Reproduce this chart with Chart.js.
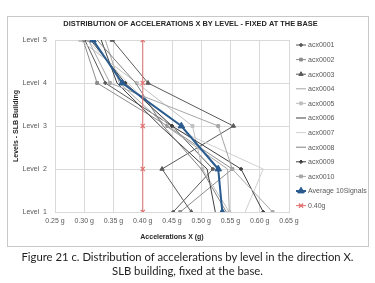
<!DOCTYPE html>
<html>
<head>
<meta charset="utf-8">
<script src="https://cdn.jsdelivr.net/npm/chart.js@4.4.0/dist/chart.umd.min.js"></script>
<style>
  html, body { margin: 0; padding: 0; background: #ffffff; }
  body { width: 375px; height: 283px; position: relative; overflow: hidden; }
  #frame { position: absolute; left: 7px; top: 16px; width: 360px; height: 229px; border: 1px solid #c8c8c8; box-sizing: content-box; }
  #wrap { position: absolute; left: 0; top: 0; width: 375px; height: 283px; }
  #cap { position: absolute; left: 0; top: 250px; width: 375px; text-align: center; font-family: Lato, "Open Sans", sans-serif; font-size: 11.3px; line-height: 13.5px; color: #1e1e1e; }
</style>
</head>
<body>
<div id="frame"></div>
<div id="wrap"><canvas id="c" width="375" height="283"></canvas></div>
<div id="cap">Figure 21 c. Distribution of accelerations by level in the direction X.<br>SLB building, fixed at the base.</div>
<script>
// ---- data (x = acceleration in g, for Level 1..5) ----
const levels = [1, 2, 3, 4, 5];
const levelLabels = ['Level  1', 'Level  2', 'Level  3', 'Level  4', 'Level  5'];
const xTicks = [0.25, 0.30, 0.35, 0.40, 0.45, 0.50, 0.55, 0.60, 0.65];
const seriesNames = ['acx0001','acx0002','acx0003','acx0004','acx0005','acx0006','acx0007','acx0008','acx0009','acx0010','Average 10Signals','0.40g'];

const acx0001 = [0.452, 0.520, 0.450, 0.336, 0.301];
const acx0002 = [0.464, 0.553, 0.442, 0.322, 0.298];
const acx0003 = [0.483, 0.433, 0.555, 0.409, 0.348];
const acx0004 = [0.548, 0.545, 0.440, 0.360, 0.336];
const acx0005 = [0.548, 0.502, 0.485, 0.390, 0.293];
const acx0006 = [0.524, 0.510, 0.430, 0.356, 0.329];
const acx0007 = [0.575, 0.606, 0.445, 0.375, 0.305];
const acx0008 = [0.543, 0.500, 0.435, 0.388, 0.322];
const acx0009 = [0.606, 0.568, 0.450, 0.370, 0.311];
const acx0010 = [0.622, 0.553, 0.529, 0.344, 0.307];
const average10 = [0.536, 0.529, 0.466, 0.365, 0.315];
const limit040 = [0.40, 0.40, 0.40, 0.40, 0.40];

const allSeries = [acx0001, acx0002, acx0003, acx0004, acx0005, acx0006, acx0007, acx0008, acx0009, acx0010, average10, limit040];

// ---- styles ----
const styles = [
  { c: '#595959', w: 1, ps: 'rectRot', r: 1.8 },
  { c: '#8c8c8c', w: 1, ps: 'rect', r: 2 },
  { c: '#5a5a5a', w: 1, ps: 'triangle', r: 2.5 },
  { c: '#a6a6a6', w: 1, ps: 'circle', r: 0 },
  { c: '#bfbfbf', w: 1, ps: 'rect', r: 2 },
  { c: '#404040', w: 1, ps: 'circle', r: 0 },
  { c: '#d0d0d0', w: 1, ps: 'circle', r: 0 },
  { c: '#7f7f7f', w: 1, ps: 'circle', r: 0 },
  { c: '#404040', w: 1, ps: 'rectRot', r: 1.8 },
  { c: '#a6a6a6', w: 1, ps: 'rect', r: 2 },
  { c: '#2a5b8e', w: 2, ps: 'triangle', r: 3.8 },
  { c: '#e07070', w: 1, ps: 'crossRot', r: 3 }
];

const datasets = allSeries.map((vals, i) => ({
  label: seriesNames[i],
  data: vals.map((v, k) => ({ x: v, y: levels[k] })),
  showLine: true,
  borderColor: styles[i].c,
  backgroundColor: styles[i].c,
  borderWidth: styles[i].w,
  pointStyle: styles[i].ps,
  pointRadius: styles[i].r,
  pointBorderWidth: styles[i].ps === 'crossRot' ? 1.2 : 1,
  pointBackgroundColor: styles[i].c,
  pointBorderColor: styles[i].c,
  order: 12 - i
}));

const FONT = '"Liberation Sans", Arial, sans-serif';

const decor = {
  id: 'decor',
  afterDraw(chart) {
    const ctx = chart.ctx;
    ctx.save();
    // title
    ctx.font = 'bold 7.4px ' + FONT;
    ctx.fillStyle = '#262626';
    ctx.textAlign = 'center';
    ctx.textBaseline = 'middle';
    ctx.fillText('DISTRIBUTION OF ACCELERATIONS X BY LEVEL - FIXED AT THE BASE', 190.5, 23.5);
    // legend
    ctx.font = '7px ' + FONT;
    ctx.textAlign = 'left';
    chart.data.datasets.forEach((ds, i) => {
      const y = 45 + i * 14.6;
      ctx.strokeStyle = ds.borderColor;
      ctx.lineWidth = ds.borderWidth;
      ctx.beginPath();
      ctx.moveTo(296, y);
      ctx.lineTo(306, y);
      ctx.stroke();
      if (ds.pointRadius > 0) {
        ctx.fillStyle = ds.pointBackgroundColor;
        ctx.strokeStyle = ds.pointBorderColor;
        ctx.lineWidth = ds.pointBorderWidth;
        Chart.helpers.drawPoint(ctx, { pointStyle: ds.pointStyle, radius: ds.pointRadius, rotation: 0, borderWidth: ds.pointBorderWidth }, 301, y);
      }
      ctx.fillStyle = '#595959';
      ctx.fillText(ds.label, 308, y + 0.5);
    });
    ctx.restore();
  }
};

new Chart(document.getElementById('c'), {
  type: 'scatter',
  data: { datasets },
  options: {
    responsive: false,
    animation: false,
    layout: { padding: { left: 10, right: 86, top: 40, bottom: 40 } },
    plugins: { legend: { display: false }, title: { display: false }, tooltip: { enabled: false } },
    scales: {
      x: {
        type: 'linear',
        min: xTicks[0],
        max: xTicks[xTicks.length - 1],
        afterBuildTicks: (s) => { s.ticks = xTicks.map(v => ({ value: v })); },
        afterFit: (s) => { s.height = 31; },
        ticks: {
          callback: (v) => Number(v).toFixed(2) + ' g',
          font: { family: FONT, size: 7 },
          color: '#595959',
          padding: 5,
          maxRotation: 0
        },
        grid: { color: '#d9d9d9', lineWidth: 1, drawTicks: false },
        border: { color: '#d9d9d9' },
        title: { display: true, text: 'Accelerations X (g)', font: { family: FONT, size: 7, weight: 'bold' }, color: '#262626', padding: { top: 0, bottom: 2 } }
      },
      y: {
        type: 'linear',
        min: levels[0],
        max: levels[levels.length - 1],
        afterBuildTicks: (s) => { s.ticks = levels.map(v => ({ value: v })); },
        afterFit: (s) => { s.width = 45; },
        ticks: {
          callback: (v) => levelLabels[levels.indexOf(v)],
          font: { family: FONT, size: 7 },
          color: '#595959',
          padding: 8
        },
        grid: { color: '#d9d9d9', lineWidth: 1, drawTicks: false },
        border: { color: '#d9d9d9' },
        title: { display: true, text: 'Levels - SLB Building', font: { family: FONT, size: 7, weight: 'bold' }, color: '#262626', padding: { top: 2, bottom: 0 } }
      }
    }
  },
  plugins: [decor]
});
</script>
</body>
</html>
